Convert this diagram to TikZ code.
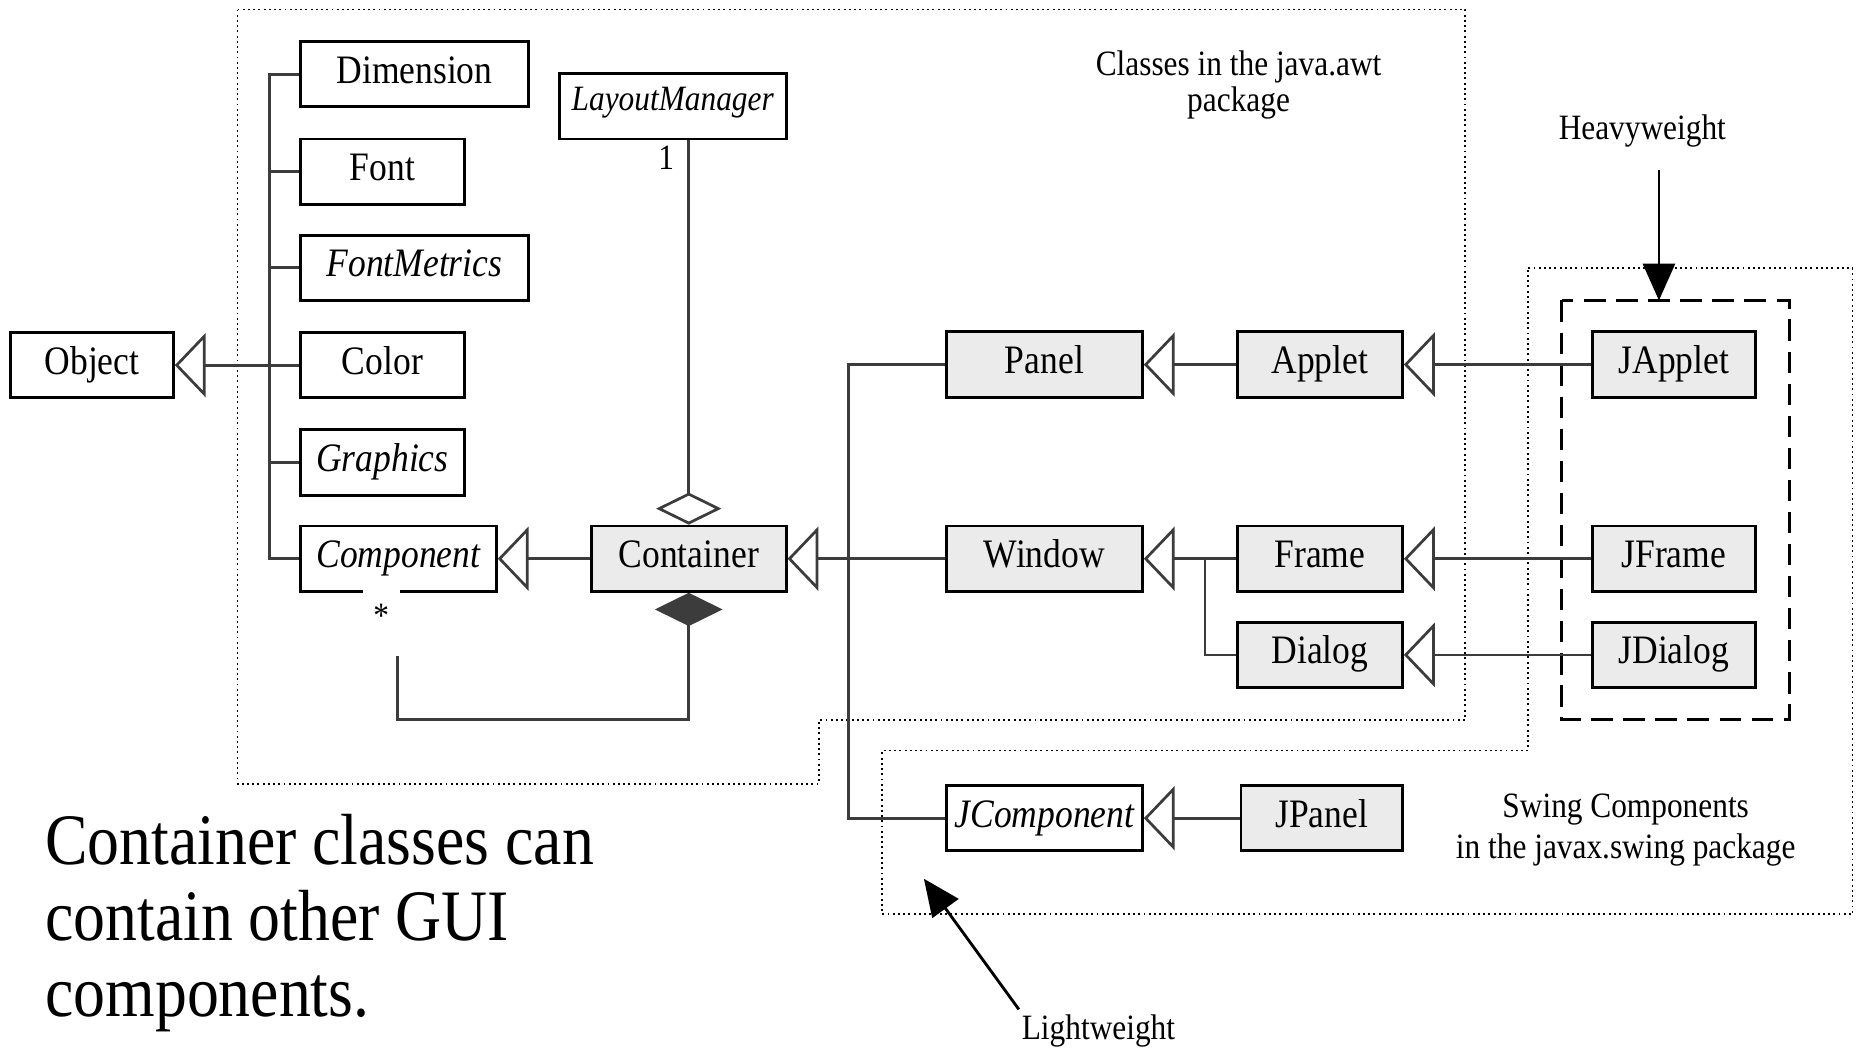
\documentclass[tikz,border=0pt]{standalone}
\usepackage{fontspec}
\setmainfont{Liberation Serif}[FakeStretch=0.88]
\usetikzlibrary{arrows.meta}
\definecolor{boxgray}{HTML}{EBEBEB}
\definecolor{linegray}{HTML}{3C3C3C}

\begin{document}
\begin{tikzpicture}[x=1pt,y=-1pt,
  cls/.style={draw=black, line width=2.4pt, minimum height=55pt, inner sep=0pt,
    text height=24pt, text depth=9pt, font=\fontsize{34}{40}\selectfont},
  shaded/.style={cls, fill=boxgray},
  conn/.style={draw=linegray, line width=2.3pt},
  inh/.style={conn, -{Triangle[open, length=26pt, width=54pt]}},
  lbl/.style={inner sep=0pt, font=\fontsize{30}{34}\selectfont},
  dotline/.style={draw=black, line width=1.6pt, dash pattern=on 1.6pt off 2.8pt},
  dashline/.style={draw=black, line width=3pt, dash pattern=on 18pt off 9pt},
  pointer/.style={draw=black, line width=2.4pt, -{Triangle[length=31pt, width=27pt]}}
]
\useasboundingbox (0,0) rectangle (1568,883);

% package regions
\draw[dotline] (200,8) -- (1234,8) -- (1234,606) -- (690,606) -- (690,660)
  -- (200,660) -- cycle;
\draw[dotline] (1287,226) -- (1560,226) -- (1560,770) -- (743,770) -- (743,632)
  -- (1287,632) -- cycle;
\draw[dashline] (1315,253) rectangle (1507,606);

% region captions
\node[lbl] (awtA) at (1043,56) {Classes in the java.awt};
\node[lbl] (awtB) at (1043,87) {package};
\node[lbl] (swingA) at (1369,682) {Swing Components};
\node[lbl] (swingB) at (1369,716) {in the javax.swing package};
\node[lbl] (heavy) at (1383,110) {Heavyweight};
\node[lbl] (light) at (925,868) {Lightweight};

% classes
\node[cls, minimum width=137pt] (object) at (77.5,307.5) {Object};
\node[cls, minimum width=192pt] (dimension) at (349,62.5) {Dimension};
\node[cls, minimum width=138pt] (font) at (322,144.5) {Font};
\node[cls, minimum width=192pt] (fontmetrics) at (349,225.5) {\itshape FontMetrics};
\node[cls, minimum width=138pt] (color) at (322,307.5) {Color};
\node[cls, minimum width=138pt] (graphics) at (322,389.5) {\itshape Graphics};
\node[cls, minimum width=165pt] (component) at (335.5,470.5) {\itshape Component};
\node[cls, minimum width=191pt, text height=21pt, text depth=14pt,
  font=\fontsize{30}{34}\selectfont\itshape] (layout)
  at (566.5,89.5) {LayoutManager};
\node[shaded, minimum width=164pt] (container) at (580,470.5) {Container};
\node[shaded, minimum width=165pt] (panel) at (879.5,307) {Panel};
\node[shaded, minimum width=139pt] (applet) at (1111.5,307) {Applet};
\node[shaded, minimum width=165pt] (window) at (879.5,470.5) {Window};
\node[shaded, minimum width=139pt] (frame) at (1111.5,470.5) {Frame};
\node[shaded, minimum width=139pt] (dialog) at (1111.5,551.5) {Dialog};
\node[shaded, minimum width=137pt] (japplet) at (1409.5,307) {JApplet};
\node[shaded, minimum width=137pt] (jframe) at (1409.5,470.5) {JFrame};
\node[shaded, minimum width=137pt] (jdialog) at (1409.5,551.5) {JDialog};
\node[cls, minimum width=165pt] (jcomponent) at (879.5,689) {\itshape JComponent};
\node[shaded, minimum width=136pt] (jpanel) at (1113,689) {JPanel};

% inheritance from Object
\draw[inh] (color.west) -- (object.east);
\draw[conn] (dimension.west) -- ++(-25,0) coordinate (trunk)
  -- (trunk |- component.west) -- (component.west);
\foreach \n in {font,fontmetrics,graphics}
  \draw[conn] (\n.west) -- (\n.west -| trunk);

% awt hierarchy
\draw[inh] (container.west) -- (component.east);
\draw[inh] (window.west) -- (container.east);
\draw[conn] (panel.west) -- ++(-81,0) coordinate (bus)
  -- (bus |- jcomponent.west) -- (jcomponent.west);
\draw[inh] (applet.west) -- (panel.east);
\draw[inh] (frame.west) -- (window.east);
\draw[conn] (dialog.west) -- ++(-26,0) coordinate (fd) -- (fd |- frame.west);

% swing hierarchy
\draw[inh] (japplet.west) -- (applet.east);
\draw[inh] (jframe.west) -- (frame.east);
\draw[inh] (jdialog.west) -- (dialog.east);
\draw[inh] (jpanel.west) -- (jcomponent.east);

% aggregation and composition
\draw[conn, -{Diamond[open, length=27pt, width=55pt]}]
  (layout.south -| container.north) -- (container.north);
\node[lbl] (one) at (561,133) {1};
\coordinate (compend) at (335,552);
\draw[conn, {Diamond[length=28pt, width=57pt, fill=linegray]}-]
  (container.south) -- (container.south |- 0,606) -| (compend);
\node[lbl, fill=white, inner xsep=9pt, text height=32pt, text depth=0pt,
  anchor=base] (many) at (321,528) {*};

% pointers
\coordinate (heavytail) at (1397,143);
\coordinate (heavytip) at (1397,253);
\draw[pointer] (heavytail) -- (heavytip);
\coordinate (lighttail) at (858,850);
\coordinate (lighttip) at (778,740);
\draw[pointer] (lighttail) -- (lighttip);

% note
\node[anchor=base west, inner sep=0pt, font=\fontsize{61}{64}\selectfont]
  (noteA) at (38,728) {Container classes can};
\node[anchor=base west, inner sep=0pt, font=\fontsize{61}{64}\selectfont]
  (noteB) at (38,792) {contain other GUI};
\node[anchor=base west, inner sep=0pt, font=\fontsize{61}{64}\selectfont]
  (noteC) at (38,856) {components.};
\end{tikzpicture}
\end{document}
